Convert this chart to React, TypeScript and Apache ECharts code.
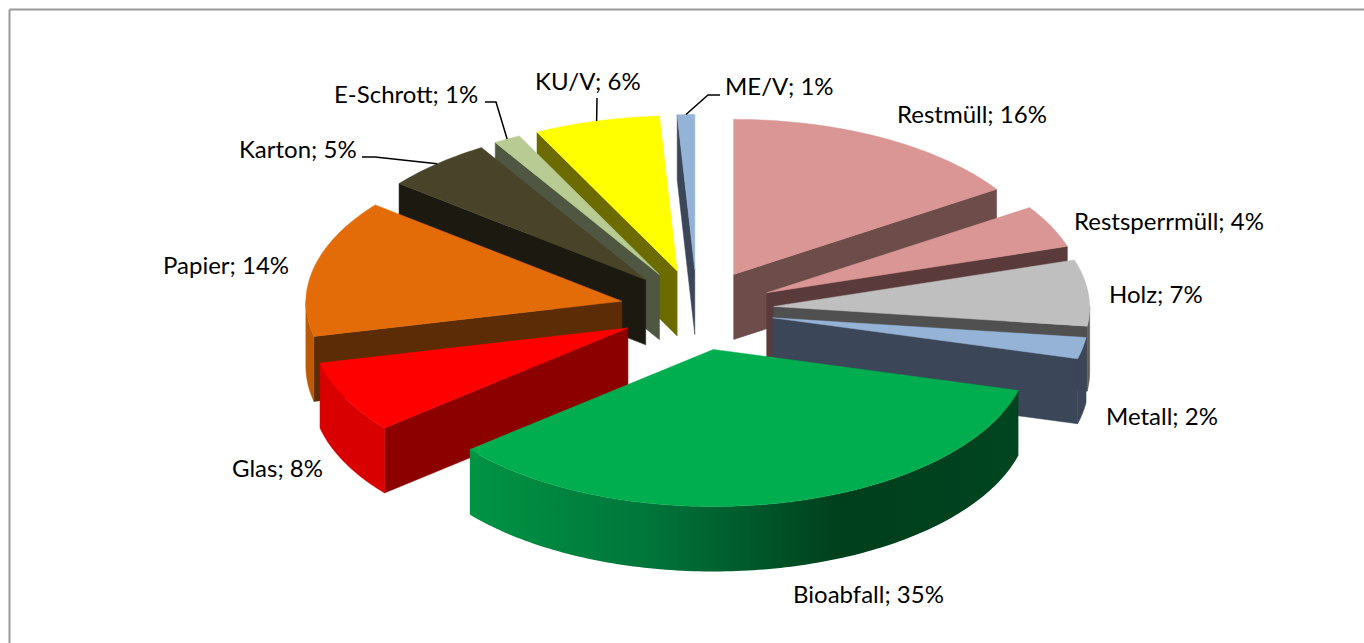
import React, { useEffect, useRef } from "react";
import * as echarts from "echarts";

const categories = ["Restmüll", "Restsperrmüll", "Holz", "Metall", "Bioabfall", "Glas", "Papier", "Karton", "E-Schrott", "KU/V", "ME/V"];
// slice sizes (the printed labels are rounded)
const sliceValues = [15.8, 4.4, 6.8, 2.2, 34.8, 7.4, 14.2, 5.6, 1.4, 6.5, 0.9];
const percentLabels = [16, 4, 7, 2, 35, 8, 14, 5, 1, 6, 1];

const topColors = ["#D99694", "#D99694", "#BFBFBF", "#95B3D7", "#00AE4F", "#FF0000", "#E36C09", "#494429", "#B7CB92", "#FFFF00", "#95B3D7"];
const wallColors = ["#6D4C4A", "#5A3A3A", "#505050", "#3B4658", "#003F1C", "#8C0000", "#5B2C05", "#1C1A10", "#4F5742", "#6B6B00", "#3B4658"];
const rimColors = ["#6D4C4A", "#5A3A3A", "#5C5C5C", "#3B4658", "", "#D80000", "#BC5A06", "#1C1A10", "#4F5742", "#6B6B00", "#3B4658"];

// pie geometry (styling constants of the projected pie)
const CX = 697, CY = 310, EX = 77, EY = 40.4, RX = 316, RY = 157, DEPTH = 65, BACK_SHRINK = 0.012;

// label placement: [left x, middle y]
const labelPlaces = [[897, 113], [1074, 220], [1109, 293], [1106, 415], [793, 593], [232, 467], [163, 264], [239, 148], [334, 93], [535, 80], [725, 85]];
// leader lines: slice index -> points from the label to where it meets the slice
const leaderStarts: Record<number, number[][]> = {
  7: [[362, 157], [375, 157]],
  8: [[485, 102], [496, 102]],
  9: [[597, 98]],
  10: [[720, 95], [708, 95]],
};

const total = sliceValues.reduce((a, b) => a + b, 0);
const rad = (d: number) => (d * Math.PI) / 180;
let run = 0;
const slices = sliceValues.map((v, i) => {
  const start = (run / total) * 360;
  run += v;
  const end = (run / total) * 360;
  const mid = (start + end) / 2;
  const ax = CX + EX * Math.sin(rad(mid));
  const ay = CY - EY * Math.cos(rad(mid));
  return { i, start, end, mid, ax, ay };
});
const rimPoint = (s: any, deg: number, drop = 0) => {
  const k = 1 - BACK_SHRINK * Math.max(Math.cos(rad(deg)), 0);
  return [s.ax + k * RX * Math.sin(rad(deg)), s.ay - k * RY * Math.cos(rad(deg)) + drop];
};
const arc = (s: any, a: number, b: number, drop = 0) => {
  const n = Math.max(2, Math.ceil(Math.abs(b - a)));
  const pts: number[][] = [];
  for (let k = 0; k <= n; k++) pts.push(rimPoint(s, a + ((b - a) * k) / n, drop));
  return pts;
};
const paintOrder = [...slices].sort((a, b) => Math.cos(rad(b.mid)) - Math.cos(rad(a.mid))).map((s) => s.i);

const bioGradient = () =>
  new echarts.graphic.LinearGradient(0, 0, 1, 0, [
    { offset: 0, color: "#009444" },
    { offset: 0.33, color: "#00753A" },
    { offset: 0.68, color: "#003F1C" },
    { offset: 1, color: "#004420" },
  ]);

function renderSlice(_params: any, api: any) {
  const s = slices[api.value(0)];
  const children: any[] = [];
  const poly = (points: number[][], fill: any) => ({
    type: "polygon",
    shape: { points },
    style: { fill, stroke: typeof fill === "string" ? fill : undefined, lineWidth: typeof fill === "string" ? 0.5 : 0 },
  });
  const wallAt = (deg: number) => {
    const p = rimPoint(s, deg);
    return poly([[s.ax, s.ay], p, [p[0], p[1] + DEPTH], [s.ax, s.ay + DEPTH]], wallColors[s.i]);
  };
  if (s.start > 180 && s.start < 360) children.push(wallAt(s.start));
  if (s.end > 0 && s.end < 180) children.push(wallAt(s.end));
  const a = Math.max(s.start, 90), b = Math.min(s.end, 270);
  if (b > a) {
    const top = arc(s, a, b);
    const bottom = arc(s, b, a, DEPTH);
    children.push(poly([...top, ...bottom], s.i === 4 ? bioGradient() : rimColors[s.i]));
  }
  children.push(poly([[s.ax, s.ay], ...arc(s, s.start, s.end)], topColors[s.i]));
  return { type: "group", children };
}

function buildGraphics() {
  const g: any[] = [
    { type: "line", shape: { x1: 9.5, y1: 9.5, x2: 1364, y2: 9.5 }, style: { stroke: "#999999", lineWidth: 2 } },
    { type: "line", shape: { x1: 9.5, y1: 9.5, x2: 9.5, y2: 643 }, style: { stroke: "#999999", lineWidth: 2 } },
  ];
  Object.keys(leaderStarts).forEach((key) => {
    const i = Number(key);
    const s = slices[i];
    g.push({
      type: "polyline",
      z: 10,
      shape: { points: [...leaderStarts[i], rimPoint(s, s.mid)] },
      style: { stroke: "#000000", lineWidth: 1.5, fill: "none" },
    });
  });
  categories.forEach((c, i) => {
    g.push({
      type: "text",
      z: 10,
      x: labelPlaces[i][0],
      y: labelPlaces[i][1],
      style: {
        text: `${c}; ${percentLabels[i]}%`,
        fontFamily: "Lato",
        fontSize: 24,
        fill: "#000000",
        textAlign: "left",
        textVerticalAlign: "middle",
      },
    });
  });
  return g;
}

export default function App() {
  const ref = useRef<HTMLDivElement>(null);
  useEffect(() => {
    const chart = echarts.init(ref.current!, undefined, { renderer: "svg" });
    chart.setOption({
      animation: false,
      backgroundColor: "#FFFFFF",
      graphic: buildGraphics(),
      series: [
        {
          type: "custom",
          coordinateSystem: "none",
          silent: true,
          renderItem: renderSlice,
          data: paintOrder.map((i) => [i, sliceValues[i]]),
        },
      ],
    });
    return () => chart.dispose();
  }, []);
  return <div ref={ref} style={{ position: "absolute", left: 0, top: 0, width: 1364, height: 643 }} />;
}
